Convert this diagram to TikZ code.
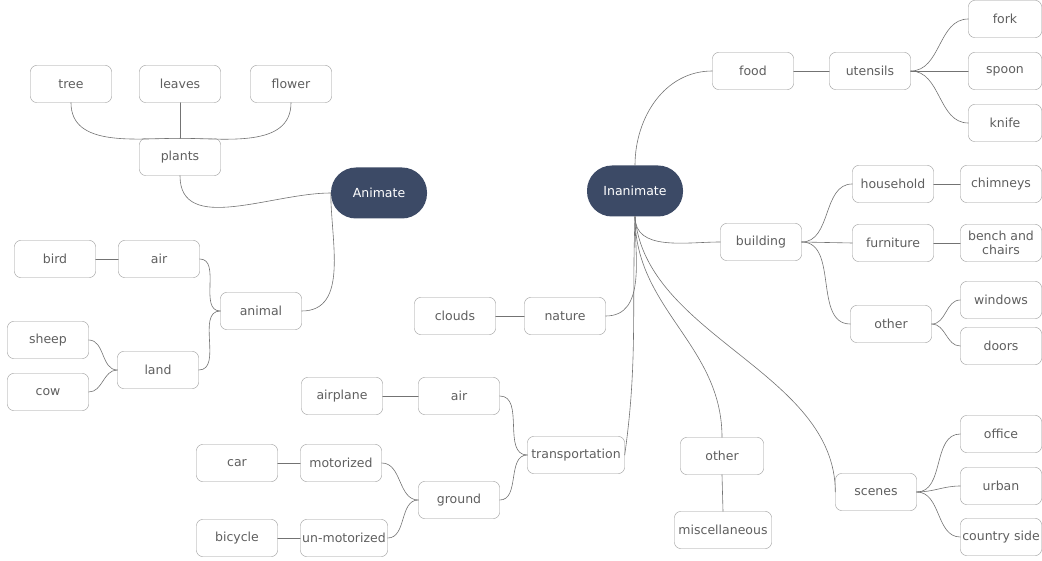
\documentclass[tikz,border=0pt]{standalone}
\usepackage{fontspec}
\setmainfont{DejaVu Sans}
\usepackage{tikz}
\definecolor{boxline}{RGB}{150,150,150}
\definecolor{wire}{RGB}{115,115,115}
\definecolor{txt}{RGB}{95,95,95}
\definecolor{hub}{RGB}{60,74,102}

\begin{document}
\begin{tikzpicture}[line cap=round,line join=round,x=1pt,y=-1pt,
  box/.style={draw=boxline,fill=white,rounded corners=6pt,minimum width=81pt,minimum height=37pt,
    inner sep=1pt,text=txt,font=\fontsize{12.5}{13.5}\selectfont,align=center},
  topic/.style={fill=hub,rounded corners=25pt,minimum width=96pt,minimum height=51pt,
    text=white,font=\fontsize{12.5}{13.5}\selectfont},
  link/.style={draw=wire,line width=0.6pt}]
\useasboundingbox (0,0) rectangle (1042,561);
\node[topic] (animate) at (379,193) {Animate};
\node[topic] (inanimate) at (635,191) {Inanimate};
\node[box] (tree) at (71,84) {tree};
\node[box] (leaves) at (180,84) {leaves};
\node[box] (flower) at (291,84) {flower};
\node[box] (plants) at (180,157) {plants};
\node[box] (bird) at (55,259) {bird};
\node[box] (airanimal) at (159,259) {air};
\node[box] (animal) at (261,311) {animal};
\node[box] (sheep) at (48,340) {sheep};
\node[box] (cow) at (48,392) {cow};
\node[box] (land) at (158,370) {land};
\node[box] (clouds) at (455,316) {clouds};
\node[box] (nature) at (565,316) {nature};
\node[box] (airplane) at (342,396) {airplane};
\node[box] (airtrans) at (459,396) {air};
\node[box] (car) at (237,463) {car};
\node[box] (motorized) at (341,463) {motorized};
\node[box] (ground) at (459,500) {ground};
\node[box] (bicycle) at (237,538) {bicycle};
\node[box,minimum width=87pt] (unmotorized) at (344,538) {un-motorized};
\node[box,minimum width=97pt] (transportation) at (576,455) {transportation};
\node[box,minimum width=83pt] (othermid) at (722,456) {other};
\node[box,minimum width=97pt] (misc) at (723,530) {miscellaneous};
\node[box] (food) at (753,71) {food};
\node[box] (utensils) at (870,71) {utensils};
\node[box,minimum width=73pt] (fork) at (1005,19) {fork};
\node[box,minimum width=73pt] (spoon) at (1005,71) {spoon};
\node[box,minimum width=73pt] (knife) at (1005,123) {knife};
\node[box] (household) at (893,184) {household};
\node[box] (chimneys) at (1001,184) {chimneys};
\node[box] (building) at (761,242) {building};
\node[box] (furniture) at (893,243) {furniture};
\node[box] (bench) at (1001,243) {bench and\\chairs};
\node[box] (otherbuild) at (891,324) {other};
\node[box] (windows) at (1001,300) {windows};
\node[box] (doors) at (1001,346) {doors};
\node[box] (scenes) at (876,492) {scenes};
\node[box] (office) at (1001,434) {office};
\node[box] (urban) at (1001,486) {urban};
\node[box] (country) at (1001,537) {country side};
\draw[link] (plants.north) to[out=180,in=-90] (tree.south);
\draw[link] (plants.north) -- (leaves.south);
\draw[link] (plants.north) to[out=0,in=-90] (flower.south);
\draw[link] (animate.west) to[out=180,in=-90] (plants.south);
\draw[link] (animate.west) to[out=-90,in=0] (animal.east);
\draw[link] (animal.west) to[out=180,in=0] (airanimal.east);
\draw[link] (animal.west) to[out=180,in=0] (land.east);
\draw[link] (airanimal.west) -- (bird.east);
\draw[link] (land.west) to[out=180,in=0] (sheep.east);
\draw[link] (land.west) to[out=180,in=0] (cow.east);
\draw[link] (inanimate.north) to[out=90,in=180] (food.west);
\draw[link] (food.east) -- (utensils.west);
\draw[link] (utensils.east) to[out=0,in=180] (fork.west);
\draw[link] (utensils.east) -- (spoon.west);
\draw[link] (utensils.east) to[out=0,in=180] (knife.west);
\draw[link] (inanimate.south) to[out=-90,in=180] (building.west);
\draw[link] (building.east) to[out=0,in=180] (household.west);
\draw[link] (building.east) -- (furniture.west);
\draw[link] (building.east) to[out=0,in=180] (otherbuild.west);
\draw[link] (household.east) -- (chimneys.west);
\draw[link] (furniture.east) -- (bench.west);
\draw[link] (otherbuild.east) to[out=0,in=180] (windows.west);
\draw[link] (otherbuild.east) to[out=0,in=180] (doors.west);
\draw[link] (inanimate.south) to[out=-90,in=0] (nature.east);
\draw[link] (nature.west) -- (clouds.east);
\draw[link] (inanimate.south) to[out=-92,in=82] (transportation.east);
\draw[link] (transportation.west) to[out=180,in=0] (airtrans.east);
\draw[link] (transportation.west) to[out=180,in=0] (ground.east);
\draw[link] (airtrans.west) -- (airplane.east);
\draw[link] (ground.west) to[out=180,in=0] (motorized.east);
\draw[link] (ground.west) to[out=180,in=0] (unmotorized.east);
\draw[link] (motorized.west) -- (car.east);
\draw[link] (unmotorized.west) -- (bicycle.east);
\draw[link] (inanimate.south) to[out=-90,in=90] (othermid.north);
\draw[link] (othermid.south) -- (misc.north);
\draw[link] (inanimate.south) to[out=-85,in=90,looseness=0.9] (scenes.west);
\draw[link] (scenes.east) to[out=0,in=180] (office.west);
\draw[link] (scenes.east) to[out=0,in=180] (urban.west);
\draw[link] (scenes.east) to[out=0,in=180] (country.west);
\end{tikzpicture}
\end{document}
